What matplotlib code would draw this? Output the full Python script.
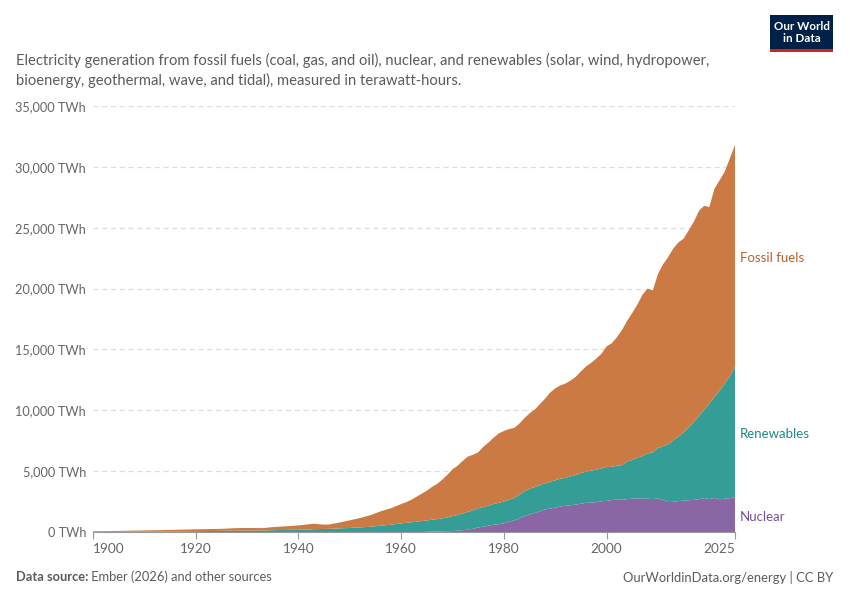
import matplotlib.pyplot as plt
import matplotlib.patches as patches
import numpy as np

plt.rcParams["font.family"] = ["Lato", "DejaVu Sans"]

# values (TWh)
years = [1900, 1905, 1910, 1915, 1920, 1925, 1928, 1930, 1933, 1935, 1938, 1940,
         1943, 1945, 1946, 1948, 1950, 1952, 1954, 1956, 1958,
         1960, 1961, 1962, 1963, 1964, 1965, 1966, 1967, 1968, 1969,
         1970, 1971, 1972, 1973, 1974, 1975, 1976, 1977, 1978, 1979,
         1980, 1981, 1982, 1983, 1984, 1985, 1986, 1987, 1988, 1989,
         1990, 1991, 1992, 1993, 1994, 1995, 1996, 1997, 1998, 1999,
         2000, 2001, 2002, 2003, 2004, 2005, 2006, 2007, 2008, 2009,
         2010, 2011, 2012, 2013, 2014, 2015, 2016, 2017, 2018, 2019,
         2020, 2021, 2022, 2023, 2024, 2025]

# top of the stack (all sources)
total = [60, 90, 130, 170, 220, 260, 320, 330, 320, 400, 480, 540,
         680, 600, 620, 780, 960, 1150, 1380, 1700, 1950,
         2300, 2450, 2650, 2900, 3150, 3400, 3700, 3950, 4300, 4700,
         5150, 5450, 5850, 6200, 6350, 6550, 7000, 7350, 7750, 8100,
         8300, 8450, 8550, 8900, 9350, 9750, 10050, 10500, 10950, 11450,
         11800, 12050, 12200, 12450, 12750, 13200, 13600, 13900, 14250, 14650,
         15250, 15500, 16000, 16600, 17350, 18000, 18700, 19500, 20000, 19850,
         21200, 22000, 22600, 23300, 23800, 24100, 24800, 25500, 26400, 26800,
         26700, 28200, 28900, 29600, 30700, 31800]

# top of renewables + nuclear
low_carbon = [10, 18, 30, 45, 65, 95, 110, 120, 125, 150, 175, 190,
              230, 250, 260, 300, 330, 380, 430, 520, 600,
              710, 760, 800, 850, 900, 950, 1010, 1060, 1120, 1200,
              1300, 1400, 1530, 1650, 1800, 1950, 2050, 2150, 2300, 2400,
              2500, 2650, 2800, 3050, 3350, 3550, 3700, 3850, 4000, 4120,
              4250, 4380, 4450, 4580, 4680, 4850, 4950, 5050, 5120, 5230,
              5350, 5350, 5450, 5500, 5800, 5920, 6100, 6250, 6450, 6550,
              6900, 7050, 7200, 7550, 7830, 8200, 8600, 9050, 9550, 10050,
              10550, 11100, 11600, 12200, 12800, 13580]

nuclear = [0] * 21 + [0, 0, 0, 0, 0, 20, 30, 40, 50, 65,
                      80, 110, 150, 200, 260, 380, 430, 520, 600, 640,
                      710, 850, 950, 1100, 1300, 1450, 1560, 1700, 1850, 1930,
                      2000, 2100, 2150, 2200, 2250, 2330, 2400, 2410, 2450, 2520,
                      2560, 2630, 2660, 2640, 2700, 2740, 2760, 2740, 2730, 2700,
                      2760, 2620, 2460, 2480, 2540, 2570, 2610, 2640, 2700, 2790,
                      2700, 2800, 2680, 2740, 2780, 2850]

renewables = np.array(low_carbon) - np.array(nuclear)
fossil = np.array(total) - np.array(low_carbon)

c_nuc = "#8b66a5"
c_ren = "#349e96"
c_fos = "#cb7a44"

fig = plt.figure(figsize=(8.5, 6), dpi=100)
ax = fig.add_axes([93 / 850, 68 / 600, 642 / 850, 426 / 600])

ax.stackplot(years, nuclear, renewables, fossil,
             colors=[c_nuc, c_ren, c_fos], linewidth=0)

ax.set_xlim(1900, 2025)
ax.set_ylim(0, 35000)

yt = np.arange(0, 35001, 5000)
ax.set_yticks(yt)
ax.set_yticklabels([f"{v:,} TWh" for v in yt], fontsize=9.2, color="#666666")
for v in yt[1:]:
    ax.axhline(v, color="#dddddd", linestyle=(0, (4, 3)), linewidth=0.9, zorder=0)
ax.tick_params(axis="y", length=0, pad=5)

xt = [1900, 1920, 1940, 1960, 1980, 2000, 2025]
ax.set_xticks(xt)
ax.set_xticklabels([str(x) for x in xt], fontsize=9.8, color="#666666")
ax.tick_params(axis="x", length=5, color="#999999", width=0.8, pad=3)
labs = ax.get_xticklabels()
labs[0].set_ha("left")
labs[-1].set_ha("right")

for s in ["top", "right", "left"]:
    ax.spines[s].set_visible(False)
ax.spines["bottom"].set_color("#999999")
ax.spines["bottom"].set_linewidth(0.8)

# right-hand series labels
ax.text(1.008, 22550 / 35000, "Fossil fuels", transform=ax.transAxes,
        fontsize=9.5, color="#b8612a", va="center")
ax.text(1.008, 8050 / 35000, "Renewables", transform=ax.transAxes,
        fontsize=9.5, color="#1f8a83", va="center")
ax.text(1.008, 1250 / 35000, "Nuclear", transform=ax.transAxes,
        fontsize=9.5, color="#7a4f99", va="center")

# subtitle
fig.text(16 / 850, 1 - 70.5 / 600,
         "Electricity generation from fossil fuels (coal, gas, and oil), nuclear, and renewables (solar, wind, hydropower,\n"
         "bioenergy, geothermal, wave, and tidal), measured in terawatt-hours.",
         fontsize=10.65, color="#5b5b5b", va="center", linespacing=1.45)

# logo
logo = patches.Rectangle((770 / 850, 1 - 52 / 600), 63 / 850, 37 / 600,
                         transform=fig.transFigure, facecolor="#002147", edgecolor="none")
fig.patches.append(logo)
stripe = patches.Rectangle((770 / 850, 1 - 52 / 600), 63 / 850, 3 / 600,
                           transform=fig.transFigure, facecolor="#ce261e", edgecolor="none")
fig.patches.append(stripe)
fig.text(801.5 / 850, 1 - 32.5 / 600, "Our World\nin Data", color="white",
         fontsize=8.4, fontweight="bold", ha="center", va="center", linespacing=1.0)

# footer
t1 = fig.text(16 / 850, 1 - 577 / 600, "Data source:", fontsize=9.3,
              fontweight="bold", color="#5b5b5b", va="center")
ax.annotate(" Ember (2026) and other sources", xy=(1, 0.5), xycoords=t1,
            fontsize=9.3, color="#5b5b5b", va="center", ha="left",
            annotation_clip=False)
fig.text(833 / 850, 1 - 577 / 600, "OurWorldinData.org/energy | CC BY",
         fontsize=9.4, color="#5b5b5b", va="center", ha="right")

fig.savefig("out.png", dpi=100)
